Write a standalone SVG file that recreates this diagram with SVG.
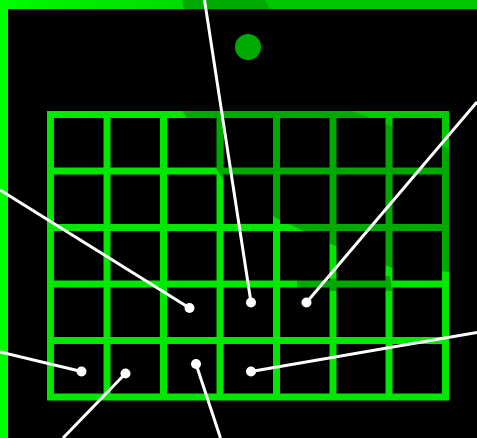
<svg xmlns="http://www.w3.org/2000/svg" width="477" height="438" viewBox="0 0 477 438">
<style>
.grid{fill:none;stroke:#00e800;stroke-width:7}
.shade{fill:#000;opacity:0.27}
.shade-light{fill:#000;opacity:0.12}
.callout{stroke:#fff;stroke-width:3;fill:none}
.dot{fill:#fff}
</style>
<defs>
<linearGradient id="topLeft" x1="0" y1="0" x2="184" y2="0" gradientUnits="userSpaceOnUse">
<stop offset="0" stop-color="#00ff00"/>
<stop offset="0.3" stop-color="#00f000"/>
<stop offset="1" stop-color="#00dc00"/>
</linearGradient>
</defs>
<rect width="477" height="438" fill="#000"/>
<g id="frame">
<rect x="0" y="0" width="477" height="9" fill="#00c800"/>
<polygon points="0,0 182,0 184,9 0,9" fill="url(#topLeft)"/>
<polygon points="182,0 265,0 270,9 184,9" fill="#00aa00"/>
<rect x="0" y="0" width="8" height="438" fill="#00ff00"/>
</g>
<g id="ring-dot">
<circle cx="248" cy="47" r="13" fill="#00aa00"/>
</g>
<g id="calendar-grid">
<rect class="grid" x="50.5" y="114.5" width="395" height="282.5"/>
<path class="grid" d="M107,114.5V397M163.5,114.5V397M220,114.5V397M276.5,114.5V397M333,114.5V397M389,114.5V397M50.5,171H445.5M50.5,227.5H445.5M50.5,284H445.5M50.5,340.5H445.5"/>
<polygon class="shade-light" points="345,108 452,108 452,150"/>
<polygon class="shade" points="183,108 345,108 452,150 452,272 392,268 333,245 276,218 222,178 183,112"/>
<polygon class="shade" points="297,280 390,276 392,291 297,291"/>
</g>
<g id="connectors">
<line class="callout" x1="204.5" y1="0" x2="251" y2="302.5"/>
<line class="callout" x1="477" y1="102" x2="306.5" y2="302.5"/>
<line class="callout" x1="0" y1="190" x2="189.5" y2="308"/>
<line class="callout" x1="0" y1="352" x2="81.5" y2="371.5"/>
<line class="callout" x1="63" y1="438" x2="125.5" y2="373.5"/>
<line class="callout" x1="220.5" y1="438" x2="196" y2="364"/>
<line class="callout" x1="477" y1="332.5" x2="251" y2="371.5"/>
<circle class="dot" cx="251" cy="302.5" r="5"/>
<circle class="dot" cx="306.5" cy="302.5" r="5"/>
<circle class="dot" cx="189.5" cy="308" r="5"/>
<circle class="dot" cx="81.5" cy="371.5" r="5"/>
<circle class="dot" cx="125.5" cy="373.5" r="5"/>
<circle class="dot" cx="196" cy="364" r="5"/>
<circle class="dot" cx="251" cy="371.5" r="5"/>
</g>
</svg>
